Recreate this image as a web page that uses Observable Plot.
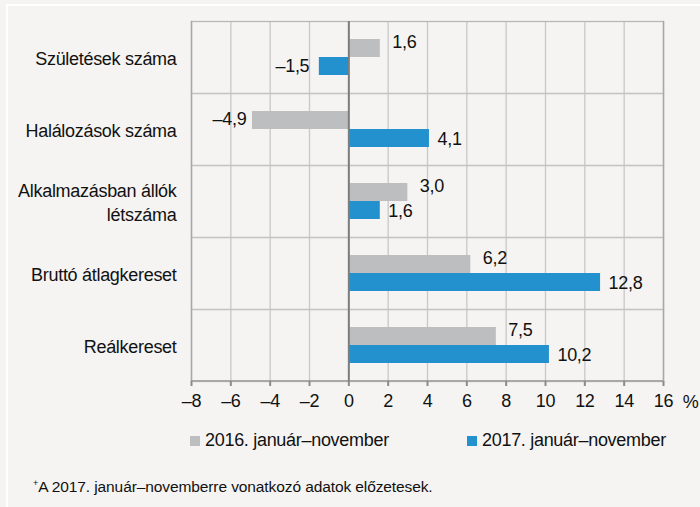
<!DOCTYPE html>
<html>
<head>
<meta charset="utf-8">
<script src="https://cdn.jsdelivr.net/npm/d3@7"></script>
<script src="https://cdn.jsdelivr.net/npm/@observablehq/plot@0.6"></script>
<style>
  html, body { margin: 0; padding: 0; background: #f5f4f2; }
  body { width: 700px; height: 507px; overflow: hidden; position: relative;
         font-family: "Liberation Sans", Arial, sans-serif; }
  #frame { position: absolute; left: 6px; top: 4px; width: 720px; height: 540px;
           border-left: 2px solid #ffffff; border-top: 2px solid #ffffff; }
  #chart { position: absolute; left: 0; top: 0; }
  #chart svg text { letter-spacing: -0.3px; }
  #legend { position: absolute; top: 430px; left: 0; width: 700px; font-size: 18px; letter-spacing: -0.3px; color: #111; }
  .item { position: absolute; display: flex; align-items: center; white-space: nowrap; }
  .sw { width: 10px; height: 10px; margin-right: 5px; }
  #note { position: absolute; top: 478px; left: 33px; font-size: 15.5px; letter-spacing: -0.1px; color: #111; white-space: nowrap; }
  #note sup { font-size: 9px; vertical-align: 6px; }
</style>
</head>
<body>
<div id="frame"></div>
<div id="chart"></div>
<div id="legend"></div>
<div id="note"><sup>+</sup>A 2017. január–novemberre vonatkozó adatok előzetesek.</div>
<script>
const categories = ["Születések száma", "Halálozások száma", "Alkalmazásban állók\nlétszáma", "Bruttó átlagkereset", "Reálkereset"];
const series = ["2016. január–november", "2017. január–november"];
const values2016 = [1.6, -4.9, 3.0, 6.2, 7.5];
const values2017 = [-1.5, 4.1, 1.6, 12.8, 10.2];
const xTicks = [-8, -6, -4, -2, 0, 2, 4, 6, 8, 10, 12, 14, 16];
const colors = ["#bcbec0", "#2391cd"];
const unitLabel = "%";

const data = categories.flatMap((c, i) => [
  {category: c, series: series[0], value: values2016[i]},
  {category: c, series: series[1], value: values2017[i]}
]);

const fmtTick = d => d < 0 ? "–" + Math.abs(d) : String(d);
const fmtVal = d => (d < 0 ? "–" : "") + Math.abs(d).toFixed(1).replace(".", ",");

const labelMark = (s, positive, dx, dy) => Plot.text(
  data.filter(d => d.series === s && (positive ? d.value >= 0 : d.value < 0)),
  {x: "value", y: "series", fy: "category", text: d => fmtVal(d.value),
   textAnchor: positive ? "start" : "end", dx: positive ? dx : -dx, dy, fill: "#111"}
);

const H = 420, MT = 19, MB = 37;
const facetH = (H - MT - MB) / categories.length;
const first = categories[0], last = categories[categories.length - 1];

const chart = Plot.plot({
  width: 700,
  height: H,
  marginTop: MT,
  marginBottom: MB,
  marginLeft: 191,
  marginRight: 37,
  style: {fontSize: "18px", fontFamily: '"Liberation Sans", Arial, sans-serif', background: "transparent", color: "#111"},
  x: {domain: [-8, 16], axis: null},
  y: {domain: series, paddingInner: 0, paddingOuter: 0.97, axis: null},
  fy: {domain: categories, padding: 0, label: null},
  color: {domain: series, range: colors},
  marks: [
    Plot.gridX({ticks: xTicks, stroke: "#c8c8c8", strokeOpacity: 1, strokeWidth: 1.3}),
    Plot.frame({stroke: "#c4c4c4", strokeWidth: 1.3}),
    Plot.frame({anchor: "left", stroke: "#a8a8a8", strokeWidth: 1.3}),
    Plot.frame({anchor: "right", stroke: "#a8a8a8", strokeWidth: 1.3}),
    Plot.rect([{fy: first}], {fy: "fy", x1: -8, x2: 16, insetBottom: facetH - 1.3, fill: "#a8a8a8"}),
    Plot.rect([{fy: last}], {fy: "fy", x1: -8, x2: 16, insetTop: facetH - 1.5, insetBottom: -0.5, fill: "#8c8c8c"}),
    Plot.barX(data, {x: "value", y: "series", fy: "category", fill: "series", insetTop: 0, insetBottom: 0}),
    Plot.ruleX([0], {stroke: "#7d7d7d", strokeWidth: 2}),
    labelMark(series[0], true, 12, -6),
    labelMark(series[0], false, 6, -1),
    labelMark(series[1], true, 8, 1),
    labelMark(series[1], false, 10, 0),
    Plot.axisFy({anchor: "left", tickSize: 0, tickPadding: 15, label: null, lineHeight: 1.33}),
    Plot.axisX({anchor: "bottom", ticks: xTicks, tickFormat: fmtTick, tickSize: 5, tickPadding: 8, stroke: "#8c8c8c", strokeWidth: 2, label: null}),
    Plot.text([{fy: last, t: unitLabel}], {fy: "fy", text: "t", frameAnchor: "bottom-right", textAnchor: "middle", dx: 27, dy: 26, fill: "#111"})
  ]
});
document.getElementById("chart").appendChild(chart);

const legend = document.getElementById("legend");
const legendX = [190, 467];
series.forEach((s, i) => {
  const it = document.createElement("div");
  it.className = "item";
  it.style.left = legendX[i] + "px";
  it.innerHTML = `<span class="sw" style="background:${colors[i]}"></span><span>${s}</span>`;
  legend.appendChild(it);
});
</script>
</body>
</html>
